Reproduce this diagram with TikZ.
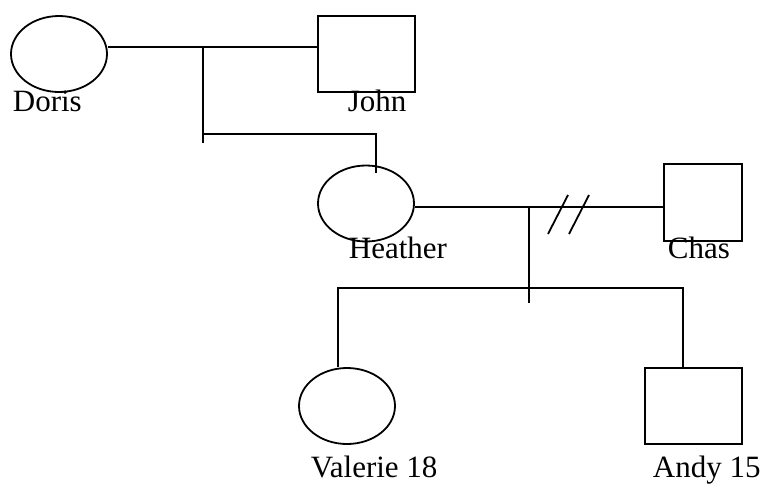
\documentclass[tikz,border=0pt]{standalone}
\usepackage{fontspec}
\setmainfont{Liberation Serif}
\usetikzlibrary{shapes.geometric}
\begin{document}
\begin{tikzpicture}[x=1pt,y=-1pt,
  line width=1.8pt,
  female/.style={draw,ellipse,inner sep=0pt,minimum width=96pt,minimum height=76pt},
  male/.style={draw,rectangle,inner sep=0pt},
  lbl/.style={anchor=base west,inner sep=0pt,font=\fontsize{31}{33}\selectfont}]
\useasboundingbox (0,0) rectangle (763,483);
% people
\node[female] (doris) at (59,54) {};
\node[male,minimum width=97pt,minimum height=76pt] (john) at (366.5,54) {};
\node[female] (heather) at (366,203.5) {};
\node[male,minimum width=78pt,minimum height=77pt] (chas) at (703,202.5) {};
\node[female] (valerie) at (347,406) {};
\node[male,minimum width=97pt,minimum height=76pt] (andy) at (693.5,406) {};
% labels
\node[lbl] (tdoris) at (12,111) {Doris};
\node[lbl] (tjohn) at (347,111) {John};
\node[lbl] (theather) at (348,258) {Heather};
\node[lbl] (tchas) at (667,258) {Chas};
\node[lbl] (tvalerie) at (310,477) {Valerie 18};
\node[lbl] (tandy) at (652,477) {Andy 15};
% coordinates
\coordinate (dj) at (203,47);
\coordinate (djb) at (203,143);
\coordinate (dja) at (203,134);
\coordinate (djc) at (376,134);
\coordinate (hin) at (376,173);
\coordinate (hc) at (529,207);
\coordinate (hcb) at (529,303);
\coordinate (sib) at (529,288);
\coordinate (vl) at (338,288);
\coordinate (al) at (683,288);
\coordinate (s1a) at (548,234);
\coordinate (s1b) at (568,195);
\coordinate (s2a) at (569,234);
\coordinate (s2b) at (589,195);
% connectors
\draw (doris.east |- dj) -- (john.west |- dj);
\draw (dj) -- (djb);
\draw (dja) -- (djc) -- (hin);
\draw (heather.east |- hc) -- (chas.west |- hc);
\draw (hc) -- (hcb);
\draw (valerie.north -| vl) -- (vl) -- (al) -- (andy.north -| al);
\draw (s1a) -- (s1b);
\draw (s2a) -- (s2b);
\end{tikzpicture}
\end{document}
